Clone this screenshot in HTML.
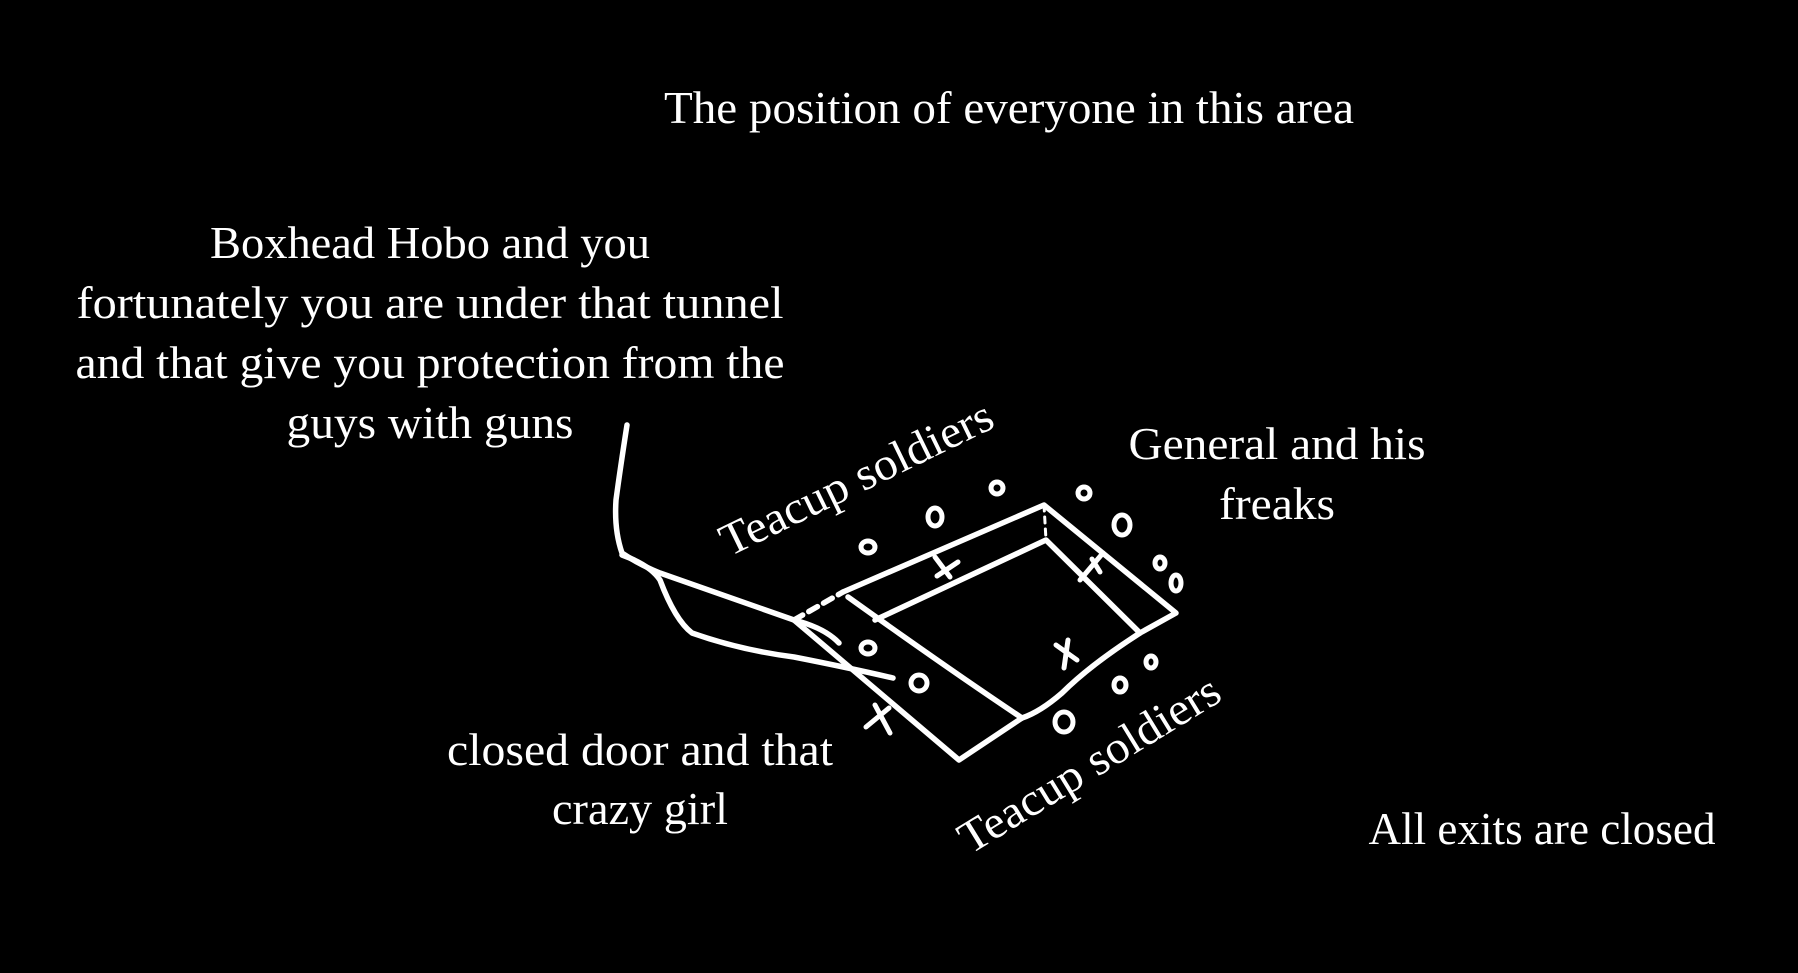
<!DOCTYPE html>
<html><head><meta charset="utf-8"><style>html,body{margin:0;background:#000}svg{display:block}</style></head>
<body>
<svg width="1798" height="973" viewBox="0 0 1798 973" xmlns="http://www.w3.org/2000/svg">
<rect width="1798" height="973" fill="#000"/>
<g fill="#fff" font-family="Liberation Serif, serif" font-size="46" text-anchor="middle">
<text x="1009" y="123" textLength="690" lengthAdjust="spacingAndGlyphs">The position of everyone in this area</text>
<text x="430" y="258" textLength="440" lengthAdjust="spacingAndGlyphs">Boxhead Hobo and you</text>
<text x="430" y="318" textLength="707" lengthAdjust="spacingAndGlyphs">fortunately you are under that tunnel</text>
<text x="430" y="378" textLength="709" lengthAdjust="spacingAndGlyphs">and that give you protection from the</text>
<text x="430" y="438" textLength="287" lengthAdjust="spacingAndGlyphs">guys with guns</text>
<text x="1277" y="459" textLength="297" lengthAdjust="spacingAndGlyphs">General and his</text>
<text x="1277" y="519" textLength="116" lengthAdjust="spacingAndGlyphs">freaks</text>
<text x="640" y="765" textLength="386" lengthAdjust="spacingAndGlyphs">closed door and that</text>
<text x="640" y="824" textLength="176" lengthAdjust="spacingAndGlyphs">crazy girl</text>
<text x="1542" y="844" textLength="347" lengthAdjust="spacingAndGlyphs">All exits are closed</text>
<text x="0" y="0" text-anchor="start" transform="translate(729,557) rotate(-26)" textLength="298" lengthAdjust="spacingAndGlyphs">Teacup soldiers</text>
<text x="0" y="0" text-anchor="start" transform="translate(970,855) rotate(-31.5)" textLength="298" lengthAdjust="spacingAndGlyphs">Teacup soldiers</text>
</g>
<g fill="none" stroke="#fff" stroke-width="5.5" stroke-linecap="round" stroke-linejoin="round">
<path d="M627,425 Q620,470 616,500 Q614,530 622,553 Q640,565 660,573 L794,620 Q825,628 839,643"/>
<path d="M622,555 Q650,565 660,580 Q675,620 692,633 Q740,650 794,657 Q850,668 893,678"/>
<path d="M843,592 L1044,505 L1176,613 L1140,633"/>
<path d="M794,620 L843,592" stroke-dasharray="10,7"/>
<path d="M1044,505 L1046,540" stroke-dasharray="6,6" stroke-width="3"/>
<path d="M875,620 L1046,540 L1140,633"/>
<path d="M848,597 Q950,670 1022,718"/>
<path d="M1140,633 Q1090,665 1062,693 Q1040,712 1022,718"/>
<path d="M794,620 L959,760 L1022,718"/>
<g stroke-width="5">
<ellipse cx="868" cy="547" rx="7" ry="6"/>
<ellipse cx="935" cy="517" rx="7" ry="9"/>
<ellipse cx="997" cy="488" rx="6" ry="6"/>
<ellipse cx="1084" cy="493" rx="6" ry="6"/>
<ellipse cx="1122" cy="525" rx="8" ry="10"/>
<ellipse cx="1160" cy="563" rx="5" ry="6"/>
<ellipse cx="1176" cy="583" rx="5" ry="8"/>
<ellipse cx="868" cy="648" rx="7" ry="6"/>
<ellipse cx="919" cy="683" rx="8" ry="8"/>
<ellipse cx="1120" cy="685" rx="6" ry="7"/>
<ellipse cx="1151" cy="662" rx="5" ry="6"/>
<ellipse cx="1064" cy="722" rx="9" ry="10"/>
<path d="M935,557 L950,577 M937,576 L958,562"/>
<path d="M1080,580 L1103,553 M1092,559 L1100,572"/>
<path d="M1056,645 L1077,660 M1068,640 L1064,668"/>
<path d="M866,727 L889,708 M875,705 L890,733"/>
</g>
</g>
</svg>
</body></html>
